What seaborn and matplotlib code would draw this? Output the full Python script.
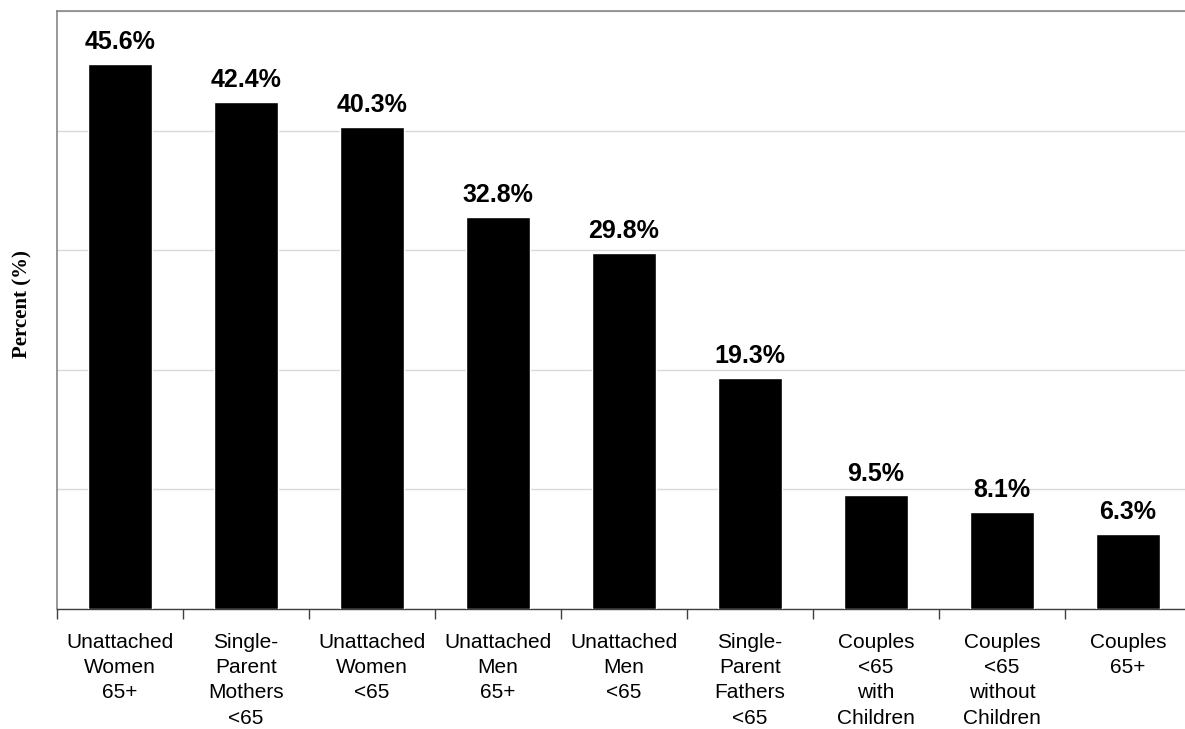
import matplotlib
matplotlib.use("Agg")
import matplotlib.pyplot as plt
from matplotlib.ticker import FixedLocator, MultipleLocator
import seaborn as sns
import pandas as pd

# Low-income rates by family type
categories = [
    "Unattached\nWomen\n65+",
    "Single-\nParent\nMothers\n<65",
    "Unattached\nWomen\n<65",
    "Unattached\nMen\n65+",
    "Unattached\nMen\n<65",
    "Single-\nParent\nFathers\n<65",
    "Couples\n<65\nwith\nChildren",
    "Couples\n<65\nwithout\nChildren",
    "Couples\n65+",
]
percent = [45.6, 42.4, 40.3, 32.8, 29.8, 19.3, 9.5, 8.1, 6.3]

df = pd.DataFrame({"group": categories, "percent": percent})

sns.set_theme(style="white")
plt.rcParams["font.family"] = ["Liberation Sans", "DejaVu Sans"]

fig = plt.figure(figsize=(11.85, 7.29), dpi=100)
W, H = 1185, 729
left, right, top, bottom = 57, 1191, 11, 609
ax = fig.add_axes([left / W, (H - bottom) / H, (right - left) / W, (bottom - top) / H])

sns.barplot(data=df, x="group", y="percent", color="black", saturation=1,
            width=0.51, ax=ax, zorder=3)

ax.set_xlim(-0.5, len(categories) - 0.5)
ax.set_ylim(0, 50)

# light horizontal gridlines
ax.yaxis.set_major_locator(MultipleLocator(10))
ax.grid(axis="y", color="#d9d9d9", linewidth=1.0, zorder=0)
ax.grid(axis="x", visible=False)
ax.tick_params(axis="y", left=False, labelleft=False)

# category boundaries get the tick marks, labels sit in the middle
ax.xaxis.set_minor_locator(FixedLocator([i - 0.5 for i in range(len(categories) + 1)]))
ax.tick_params(axis="x", which="major", length=0, pad=17, labelsize=15, colors="black")
ax.tick_params(axis="x", which="minor", bottom=True, length=7, width=1, color="#404040", direction="out")
for lbl in ax.get_xticklabels():
    lbl.set_linespacing(1.42)
    lbl.set_horizontalalignment("center")

ax.set_xlabel("")
ax.set_ylabel("Percent (%)", family=["Liberation Serif", "DejaVu Serif"],
              fontweight="bold", fontsize=15, color="black")
ax.yaxis.set_label_coords(-0.022, 0.51)

for side in ("left", "top"):
    ax.spines[side].set_color("#868686")
    ax.spines[side].set_linewidth(1.2)
ax.spines["bottom"].set_color("#404040")
ax.spines["bottom"].set_linewidth(1.0)
ax.spines["right"].set_visible(False)

ax.bar_label(ax.containers[0], labels=[f"{v:.1f}%" for v in percent],
             padding=7, fontsize=18, fontweight="bold", color="black")

fig.savefig("out.png", dpi=100, facecolor="white")
